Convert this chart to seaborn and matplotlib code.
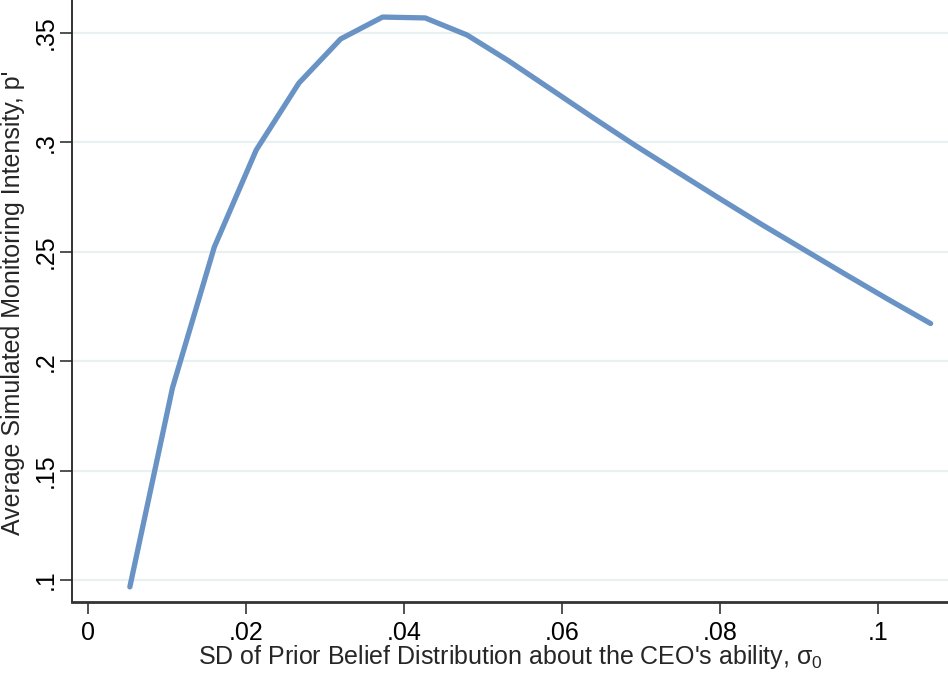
import matplotlib
matplotlib.use("Agg")
import matplotlib.pyplot as plt
import seaborn as sns
import pandas as pd

# Prior belief SD (sigma_0) and average simulated monitoring intensity p'
sigma0 = [0.0053, 0.0107, 0.0160, 0.0213, 0.0267, 0.0320, 0.0373, 0.0427,
          0.0480, 0.0533, 0.0587, 0.0640, 0.0693, 0.0747, 0.0800, 0.0853,
          0.0907, 0.0960, 0.1013, 0.1067]
p_avg = [0.0968, 0.1878, 0.2522, 0.2965, 0.3271, 0.3473, 0.3573, 0.3569,
         0.3491, 0.3372, 0.3241, 0.3112, 0.2986, 0.2863, 0.2743, 0.2625,
         0.2509, 0.2395, 0.2283, 0.2172]

x_ticks = [0, 0.02, 0.04, 0.06, 0.08, 0.10]
x_tick_labels = ["0", ".02", ".04", ".06", ".08", ".1"]
y_ticks = [0.10, 0.15, 0.20, 0.25, 0.30, 0.35]
y_tick_labels = [".1", ".15", ".2", ".25", ".3", ".35"]

x_label = r"SD of Prior Belief Distribution about the CEO's ability, $\mathregular{\sigma_0}$"
y_label = "Average Simulated Monitoring Intensity, p'"

sns.set_style("white")
plt.rcParams["font.family"] = ["Liberation Sans", "DejaVu Sans"]
plt.rcParams["mathtext.fontset"] = "custom"
plt.rcParams["mathtext.rm"] = "Liberation Sans"

df = pd.DataFrame({"sigma0": sigma0, "p": p_avg})

fig = plt.figure(figsize=(9.48, 6.73), dpi=100)
ax = fig.add_axes([0.0759, 0.1055, 0.9241, 0.8945])

sns.lineplot(data=df, x="sigma0", y="p", ax=ax, color="#6893c4",
             linewidth=3.8, solid_capstyle="round", zorder=3)

ax.set_xlim(-0.00203, 0.1089)
ax.set_ylim(0.0899, 0.3651)

ax.set_xticks(x_ticks)
ax.set_xticklabels(x_tick_labels)
ax.set_yticks(y_ticks)
ax.set_yticklabels(y_tick_labels, rotation=90, va="center")

ax.yaxis.grid(True, color="#e9f0f2", linewidth=1.6)
ax.xaxis.grid(False)
ax.set_axisbelow(True)

for side in ("top", "right"):
    ax.spines[side].set_visible(False)
ax.spines["left"].set_color("#222222")
ax.spines["left"].set_linewidth(1.3)
ax.spines["bottom"].set_color("#333333")
ax.spines["bottom"].set_linewidth(2.0)

ax.tick_params(axis="both", which="major", direction="out", length=8.5,
               width=1.1, color="#222222", labelsize=18, labelcolor="black",
               left=True, bottom=True)
ax.tick_params(axis="x", pad=5)
ax.tick_params(axis="y", pad=2)

ax.set_xlabel(x_label, fontsize=18, labelpad=-1)
ax.set_ylabel(y_label, fontsize=18)
ax.yaxis.set_label_coords(-0.0537, 0.497)

fig.savefig("out.png", dpi=100)
